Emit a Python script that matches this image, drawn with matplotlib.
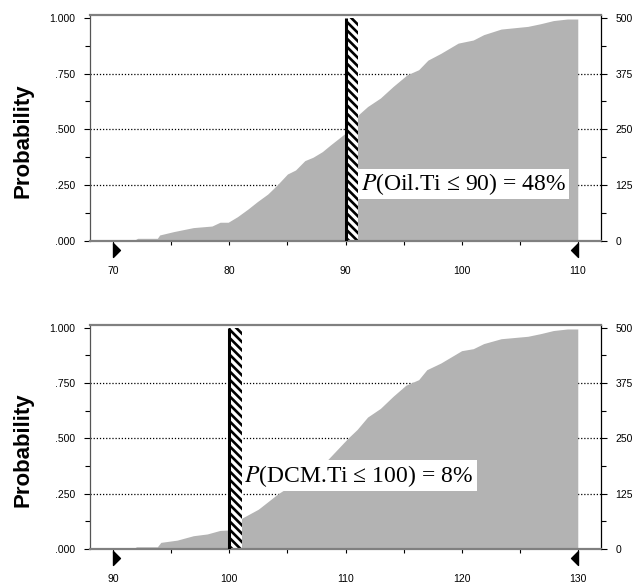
import numpy as np
import matplotlib
matplotlib.use("Agg")
import matplotlib.pyplot as plt
from matplotlib.path import Path
from matplotlib.ticker import MultipleLocator, FuncFormatter

plt.rcParams["font.family"] = ["Liberation Sans", "DejaVu Sans"]
plt.rcParams["mathtext.fontset"] = "stix"
plt.rcParams["hatch.linewidth"] = 1.9

# Oil.Ti cumulative distribution (top panel)
oil_x = [71.7, 72.1, 73.8, 74.0, 75.2, 76.9, 78.5, 79.2, 79.9, 80.7, 81.6, 82.4,
         83.3, 84.1, 85.0, 85.7, 86.5, 87.2, 88.0, 88.7, 90.0, 91.1, 91.9, 93.0,
         94.1, 95.3, 96.3, 97.1, 98.2, 99.7, 101.0, 101.9, 103.4, 105.7, 106.8,
         107.9, 109.1, 110.0]
oil_p = [0.0, 0.012, 0.012, 0.027, 0.042, 0.060, 0.067, 0.084, 0.084, 0.109, 0.143,
         0.176, 0.210, 0.250, 0.300, 0.318, 0.360, 0.375, 0.400, 0.430, 0.483,
         0.565, 0.602, 0.640, 0.692, 0.744, 0.767, 0.810, 0.840, 0.886, 0.900,
         0.924, 0.949, 0.961, 0.973, 0.987, 0.994, 0.994]

# DCM.Ti cumulative distribution (bottom panel)
dcm_x = [91.7, 92.0, 93.8, 94.1, 95.5, 96.9, 98.1, 99.2, 100.0, 101.1, 102.5,
         104.2, 106.3, 108.4, 110.2, 111.0, 111.9, 113.0, 114.1, 115.2, 116.3,
         117.0, 118.2, 120.0, 121.0, 121.9, 123.4, 125.7, 126.8, 127.9, 129.1,
         130.0]
dcm_p = [0.0, 0.010, 0.010, 0.030, 0.040, 0.060, 0.068, 0.084, 0.086, 0.140,
         0.180, 0.250, 0.320, 0.400, 0.500, 0.540, 0.596, 0.635, 0.690, 0.740,
         0.765, 0.810, 0.840, 0.896, 0.905, 0.928, 0.950, 0.961, 0.973, 0.987,
         0.994, 0.994]

panels = [
    dict(x=oil_x, p=oil_p, xmin=70, xmax=110, cut=90, bar_w=1.1,
         label=r"$P$(Oil.Ti ≤ 90) = 48% ", tx=91.3, ty=0.256),
    dict(x=dcm_x, p=dcm_p, xmin=90, xmax=130, cut=100, bar_w=1.1,
         label=r"$P$(DCM.Ti ≤ 100) = 8% ", tx=101.3, ty=0.331),
]

W, H = 633, 585
fig = plt.figure(figsize=(W / 100, H / 100), dpi=100)

axes_px = [(15, 241), (325, 549)]
left_px, right_px = 90, 601
ytop = 1.012

tri_right = Path([(0, 1), (1, 0), (0, -1), (0, 1)],
                 [Path.MOVETO, Path.LINETO, Path.LINETO, Path.CLOSEPOLY])
tri_left = Path([(0, 1), (-1, 0), (0, -1), (0, 1)],
                [Path.MOVETO, Path.LINETO, Path.LINETO, Path.CLOSEPOLY])

fmt_left = FuncFormatter(lambda v, pos: "1.000" if v >= 1 else ("%.3f" % v)[1:])

for (top, bot), pn in zip(axes_px, panels):
    ax = fig.add_axes([left_px / W, 1 - bot / H, (right_px - left_px) / W, (bot - top) / H])
    x0, x1 = pn["xmin"] - 2, pn["xmax"] + 2
    ax.set_xlim(x0, x1)
    ax.set_ylim(0, ytop)

    # grid behind the fill
    for g in [0.25, 0.5, 0.75]:
        ax.axhline(g, color="black", linestyle=(0, (1, 1.5)), linewidth=0.9, zorder=0.5)

    ax.fill_between(pn["x"], pn["p"], 0, color="#b3b3b3", linewidth=0, zorder=1)

    # hatched cut-off bar
    ax.bar(pn["cut"], 1.0, width=pn["bar_w"], align="edge", facecolor="white",
           edgecolor="black", hatch="\\" * 4, linewidth=0, zorder=2)
    ax.plot([pn["cut"], pn["cut"]], [0, 1.0], color="black", linewidth=2.2, zorder=3,
            solid_capstyle="butt")

    ax.text(pn["tx"], pn["ty"], pn["label"], fontsize=17, family="Liberation Serif",
            ha="left", va="center", zorder=4,
            bbox=dict(boxstyle="square,pad=0.1", facecolor="white", edgecolor="none"))

    # spines
    for s in ["top", "bottom"]:
        ax.spines[s].set_color("#808080")
        ax.spines[s].set_linewidth(1.6)
    ax.spines["left"].set_color("#555555")
    ax.spines["left"].set_linewidth(0.9)
    ax.spines["right"].set_color("black")
    ax.spines["right"].set_linewidth(0.9)

    # left axis
    ax.yaxis.set_major_locator(MultipleLocator(0.25))
    ax.yaxis.set_minor_locator(MultipleLocator(0.125))
    ax.yaxis.set_major_formatter(fmt_left)
    ax.tick_params(axis="y", which="major", length=4.5, width=0.8, labelsize=7.5, pad=6)
    ax.tick_params(axis="y", which="minor", length=3.5, width=0.8)

    # bottom axis
    ax.xaxis.set_major_locator(MultipleLocator(10))
    ax.xaxis.set_minor_locator(MultipleLocator(5))
    ax.tick_params(axis="x", which="major", length=3, width=0.8, labelsize=7.5, pad=15)
    ax.tick_params(axis="x", which="minor", length=3, width=0.8)

    # range markers under the axis
    ax.plot([pn["xmin"]], [-0.04], marker=tri_right, markersize=10, color="black",
            transform=ax.get_xaxis_transform(), clip_on=False, linestyle="none")
    ax.plot([pn["xmax"]], [-0.04], marker=tri_left, markersize=10, color="black",
            transform=ax.get_xaxis_transform(), clip_on=False, linestyle="none")

    # right axis (counts)
    ax2 = ax.twinx()
    ax2.set_ylim(0, 500 * ytop)
    ax2.yaxis.set_major_locator(MultipleLocator(125))
    ax2.yaxis.set_minor_locator(MultipleLocator(62.5))
    ax2.tick_params(axis="y", which="major", length=4.5, width=0.8, labelsize=7.5, pad=6)
    ax2.tick_params(axis="y", which="minor", length=3.5, width=0.8)
    for s in ax2.spines.values():
        s.set_visible(False)

    fig.text(23 / W, 1 - (top + bot + 26) / 2 / H, "Probability", rotation=90,
             fontsize=16, fontweight="bold", ha="center", va="center")

fig.savefig("out.png", dpi=100)
